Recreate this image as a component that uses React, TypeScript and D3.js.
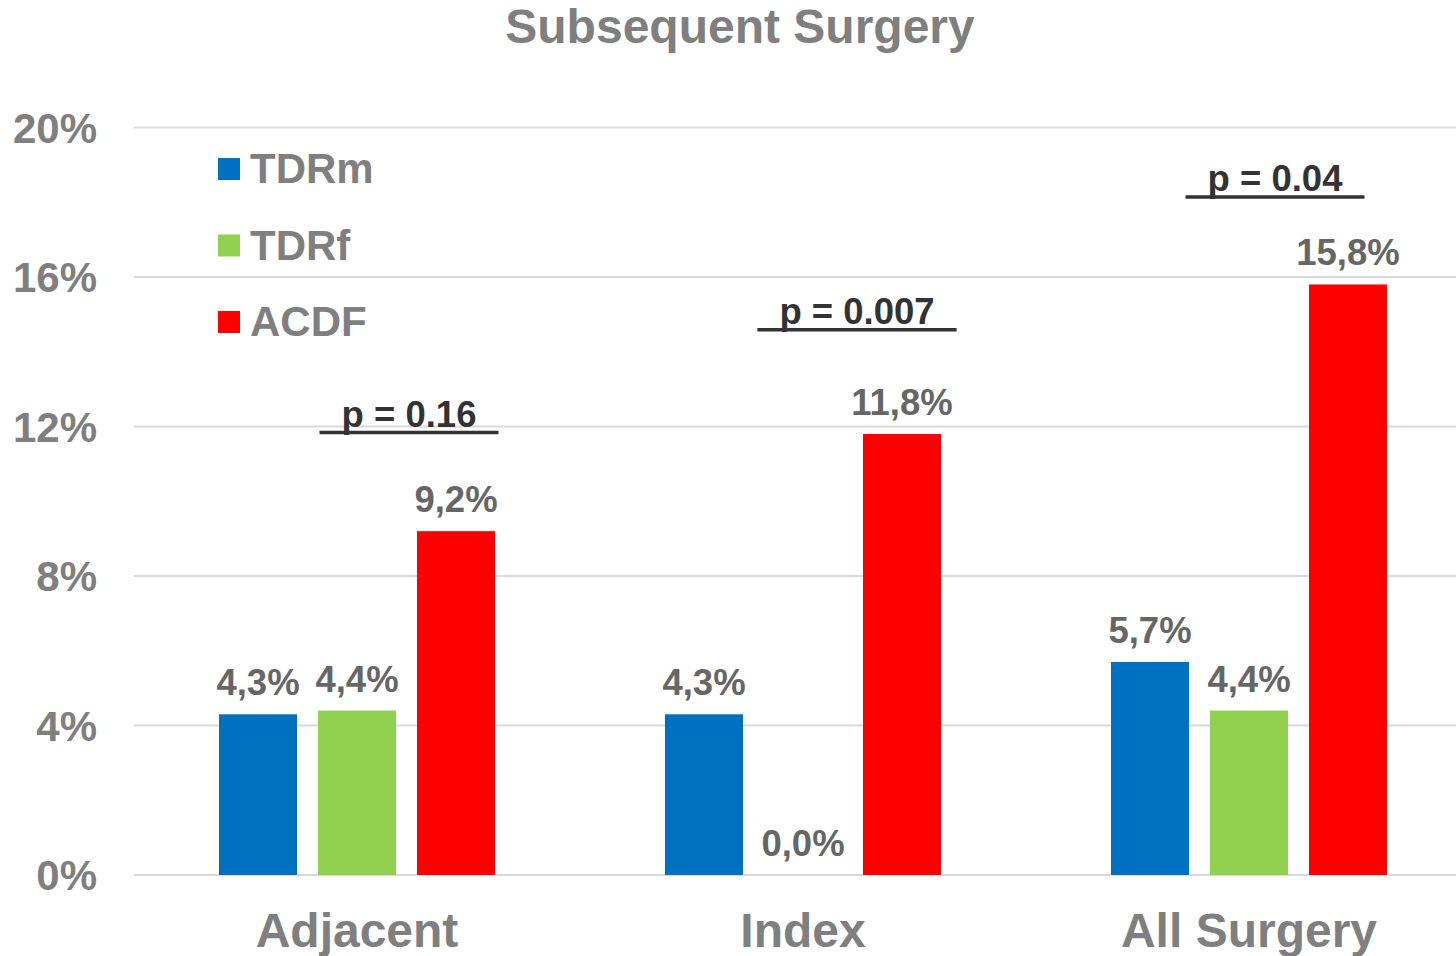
import React, { useEffect, useRef } from "react";
import * as d3 from "d3";

// Subsequent surgery rates (%) per procedure group
const categories = ["Adjacent", "Index", "All Surgery"];
const seriesNames = ["TDRm", "TDRf", "ACDF"];
const tdrm = [4.3, 4.3, 5.7];
const tdrf = [4.4, 0.0, 4.4];
const acdf = [9.2, 11.8, 15.8];
const yTicks = [0, 4, 8, 12, 16, 20];

// p-values comparing groups, with the height (in %) and horizontal shift of each bracket label
const pLabels = ["p = 0.16", "p = 0.007", "p = 0.04"];
const pLevel = [12.0, 14.75, 18.3];
const pShift = [52, 54, 26];

const seriesColors = ["#0070C0", "#92D050", "#FF0000"];

const W = 1456;
const H = 956;
const FONT = "'Liberation Sans', Arial, Helvetica, sans-serif";

export default function App() {
  const ref = useRef<SVGSVGElement | null>(null);

  useEffect(() => {
    const svg = d3.select(ref.current);
    svg.selectAll("*").remove();

    const left = 134;
    const right = 1472;
    const y = d3.scaleLinear().domain([0, 20]).range([875, 127.5]);
    const x0 = d3.scaleBand().domain(categories).range([left, right]).padding(0);
    const groupW = 276;
    const x1 = d3
      .scaleBand()
      .domain(seriesNames)
      .range([0, groupW])
      .paddingInner(0.212)
      .paddingOuter(0);

    const values = [tdrm, tdrf, acdf];

    // Title
    svg
      .append("text")
      .attr("x", 740)
      .attr("y", 43)
      .attr("text-anchor", "middle")
      .attr("font-family", FONT)
      .attr("font-weight", "bold")
      .attr("font-size", 48)
      .attr("fill", "#7F7F7F")
      .text("Subsequent Surgery");

    // Gridlines
    svg
      .append("g")
      .selectAll("line")
      .data(yTicks)
      .join("line")
      .attr("x1", left)
      .attr("x2", W)
      .attr("y1", (d) => y(d))
      .attr("y2", (d) => y(d))
      .attr("stroke", "#D9D9D9")
      .attr("stroke-width", 2);

    // Y tick labels
    svg
      .append("g")
      .selectAll("text")
      .data(yTicks)
      .join("text")
      .attr("x", 97)
      .attr("y", (d) => y(d) + 15)
      .attr("text-anchor", "end")
      .attr("font-family", FONT)
      .attr("font-weight", "bold")
      .attr("font-size", 42)
      .attr("fill", "#7F7F7F")
      .text((d) => `${d}%`);

    // Bars and value labels
    categories.forEach((cat, ci) => {
      const gx = (x0(cat) as number) + x0.bandwidth() / 2 - groupW / 2;
      const g = svg.append("g").attr("transform", `translate(${gx},0)`);
      seriesNames.forEach((s, si) => {
        const v = values[si][ci];
        const bx = x1(s) as number;
        if (v > 0) {
          g.append("rect")
            .attr("x", bx)
            .attr("y", y(v))
            .attr("width", x1.bandwidth())
            .attr("height", y(0) - y(v))
            .attr("fill", seriesColors[si]);
        }
        g.append("text")
          .attr("x", bx + x1.bandwidth() / 2)
          .attr("y", y(v) - 19)
          .attr("text-anchor", "middle")
          .attr("font-family", FONT)
          .attr("font-weight", "bold")
          .attr("font-size", 36.5)
          .attr("fill", "#666666")
          .text(`${v.toFixed(1).replace(".", ",")}%`);
      });

      // p-value label with underline bracket
      const cx = (x0(cat) as number) + x0.bandwidth() / 2 + pShift[ci];
      const py = y(pLevel[ci]);
      const t = svg
        .append("text")
        .attr("x", cx)
        .attr("y", py)
        .attr("text-anchor", "middle")
        .attr("font-family", FONT)
        .attr("font-weight", "bold")
        .attr("font-size", 36.5)
        .attr("fill", "#333333")
        .text(pLabels[ci]);
      const tw = (t.node() as SVGTextElement).getComputedTextLength();
      svg
        .append("line")
        .attr("x1", cx - tw / 2 - 22)
        .attr("x2", cx + tw / 2 + 22)
        .attr("y1", py + 6)
        .attr("y2", py + 6)
        .attr("stroke", "#333333")
        .attr("stroke-width", 3.5);
    });

    // Category labels
    svg
      .append("g")
      .selectAll("text")
      .data(categories)
      .join("text")
      .attr("x", (d) => (x0(d) as number) + x0.bandwidth() / 2)
      .attr("y", 947)
      .attr("text-anchor", "middle")
      .attr("font-family", FONT)
      .attr("font-weight", "bold")
      .attr("font-size", 48)
      .attr("fill", "#7F7F7F")
      .text((d) => d);

    // Legend
    const legend = svg.append("g");
    seriesNames.forEach((s, i) => {
      const ly = 183 + i * 76.5;
      legend
        .append("rect")
        .attr("x", 218)
        .attr("y", ly - 25)
        .attr("width", 22)
        .attr("height", 22)
        .attr("fill", seriesColors[i]);
      legend
        .append("text")
        .attr("x", 250)
        .attr("y", ly)
        .attr("font-family", FONT)
        .attr("font-weight", "bold")
        .attr("font-size", 42)
        .attr("fill", "#7F7F7F")
        .text(s);
    });
  }, []);

  return (
    <svg
      ref={ref}
      width={W}
      height={H}
      style={{ position: "absolute", left: 0, top: 0, background: "#FFFFFF" }}
    />
  );
}
